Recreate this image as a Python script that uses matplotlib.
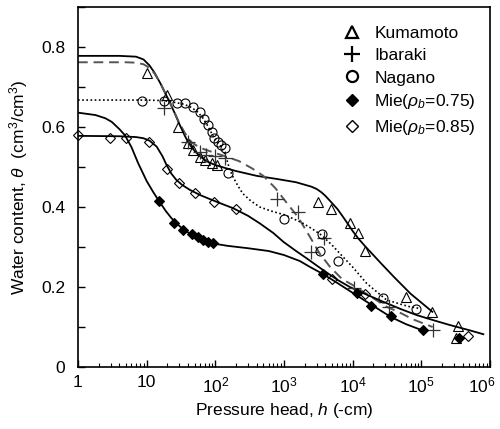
import matplotlib
matplotlib.use("Agg")
import matplotlib.pyplot as plt
import matplotlib.transforms as mtransforms
from matplotlib.lines import Line2D
from matplotlib.ticker import LogLocator, NullFormatter

plt.rcParams["font.family"] = ["Liberation Sans", "DejaVu Sans"]
plt.rcParams["mathtext.fontset"] = "custom"
plt.rcParams["mathtext.rm"] = "Liberation Sans"
plt.rcParams["mathtext.it"] = "Liberation Sans:italic"

# measured points (pressure head h in -cm, water content theta)
kum_h = [10, 19.5, 29, 40, 48, 60, 70, 88, 104, 3150, 4770, 9100, 11800, 15000, 59000, 143000, 344000, 325000]
kum_t = [0.734, 0.68, 0.599, 0.56, 0.542, 0.526, 0.518, 0.509, 0.505, 0.413, 0.394, 0.361, 0.334, 0.29, 0.176, 0.137, 0.103, 0.073]

iba_h = [18, 39.5, 59.5, 73, 98, 138, 800, 1600, 2500, 3800, 10500, 34000, 146000]
iba_t = [0.647, 0.562, 0.537, 0.53, 0.528, 0.522, 0.42, 0.388, 0.288, 0.322, 0.197, 0.151, 0.0925]

nag_h = [8.5, 18, 27.3, 36, 47.7, 59.7, 68.2, 78.8, 88.4, 96.4, 108, 119, 138, 154, 1006, 3520, 3330, 6030, 27800, 85000]
nag_t = [0.665, 0.665, 0.659, 0.659, 0.651, 0.638, 0.62, 0.605, 0.588, 0.572, 0.563, 0.555, 0.547, 0.484, 0.37, 0.332, 0.291, 0.265, 0.172, 0.144]

mie75_h = [15.3, 25.2, 34.1, 45.2, 56.4, 66.6, 78.8, 93.2, 3680, 11400, 18800, 35600, 106000, 355000]
mie75_t = [0.416, 0.361, 0.3425, 0.332, 0.324, 0.3175, 0.313, 0.309, 0.2325, 0.184, 0.153, 0.1275, 0.0925, 0.072]

mie85_h = [1.0, 2.92, 5.0, 10.9, 19.5, 29.5, 50.4, 96.4, 199, 5000, 15000, 480000]
mie85_t = [0.58, 0.572, 0.573, 0.563, 0.494, 0.459, 0.436, 0.413, 0.394, 0.22, 0.183, 0.0775]

# fitted curves
kum_fit_h = [1, 4, 7, 9, 11, 13, 16, 18, 22, 26, 30, 33, 36, 40, 45, 50, 60, 70, 80, 100, 150, 200,
             400, 800, 1500, 2500, 3000, 3500, 4000, 5000, 6000, 7000, 8500, 10000, 12000, 15000,
             25000, 40000, 70000, 145000]
kum_fit_t = [0.778, 0.778, 0.776, 0.769, 0.754, 0.736, 0.708, 0.69, 0.66, 0.632, 0.607, 0.592, 0.578,
             0.563, 0.55, 0.54, 0.527, 0.518, 0.512, 0.505, 0.496, 0.49, 0.478, 0.47, 0.462, 0.451,
             0.445, 0.437, 0.428, 0.41, 0.395, 0.379, 0.358, 0.34, 0.322, 0.303, 0.262, 0.225, 0.183, 0.138]

iba_fit_h = [1, 5, 7, 9, 11, 13, 16, 18, 22, 26, 30, 36, 45, 60, 100, 150, 220, 340, 500, 750, 1100,
             1600, 2300, 3300, 4700, 7000, 10000, 18000, 31000, 50000, 76000, 146000]
iba_fit_t = [0.762, 0.762, 0.761, 0.757, 0.748, 0.734, 0.708, 0.69, 0.66, 0.633, 0.61, 0.585, 0.562, 0.548,
             0.535, 0.525, 0.515, 0.497, 0.478, 0.447, 0.41, 0.375, 0.33, 0.284, 0.25, 0.22, 0.205, 0.177,
             0.151, 0.135, 0.119, 0.10]

nag_fit_h = [1, 10, 18, 25, 35, 45, 55, 65, 75, 85, 95, 110, 125, 140, 155, 175, 210, 250, 330, 445,
             650, 1000, 1400, 1900, 2600, 3500, 5000, 7000, 10000, 16000, 31000, 50000, 67000, 90000]
nag_fit_t = [0.6675, 0.6675, 0.666, 0.662, 0.657, 0.649, 0.638, 0.624, 0.607, 0.59, 0.574, 0.56, 0.548,
             0.53, 0.505, 0.48, 0.455, 0.434, 0.415, 0.40, 0.39, 0.381, 0.37, 0.359, 0.345, 0.33, 0.305,
             0.278, 0.25, 0.209, 0.168, 0.157, 0.151, 0.147]

mie75_fit_h = [1, 1.8, 2.5, 3.1, 4, 4.8, 6, 7.5, 10, 12.5, 15, 19, 23, 28, 35, 45, 60, 80, 100, 150,
               300, 600, 1000, 1700, 2400, 3700, 6000, 9100, 13000, 19000, 36000, 60000, 110000]
mie75_fit_t = [0.636, 0.63, 0.622, 0.613, 0.595, 0.58, 0.55, 0.51, 0.465, 0.437, 0.416, 0.39, 0.372,
               0.357, 0.343, 0.331, 0.32, 0.312, 0.308, 0.303, 0.297, 0.29, 0.28, 0.265, 0.25, 0.2325,
               0.21, 0.19, 0.173, 0.155, 0.125, 0.107, 0.09]

mie85_fit_h = [1, 4, 7, 9, 11, 14, 17, 19.5, 23, 27, 33, 43, 60, 83, 120, 182, 300, 445, 700, 980,
               1500, 2130, 3700, 6000, 9100, 15000, 28000, 50000, 85000, 150000, 260000, 500000, 800000]
mie85_fit_t = [0.578, 0.577, 0.575, 0.572, 0.566, 0.551, 0.527, 0.505, 0.483, 0.468, 0.455, 0.4425,
               0.43, 0.42, 0.409, 0.397, 0.378, 0.359, 0.335, 0.313, 0.29, 0.272, 0.2425, 0.218, 0.2,
               0.183, 0.163, 0.145, 0.13, 0.117, 0.105, 0.092, 0.082]

x_ticks = [1, 10, 100, 1000, 1e4, 1e5, 1e6]
x_labels = ["1", "10", "$10^2$", "$10^3$", "$10^4$", "$10^5$", "$10^6$"]
y_ticks = [0, 0.1, 0.2, 0.3, 0.4, 0.5, 0.6, 0.7, 0.8, 0.9]
y_labels = ["0", "", "0.2", "", "0.4", "", "0.6", "", "0.8", ""]

fig = plt.figure(figsize=(5.0, 4.29), dpi=100)
ax = fig.add_axes([0.156, 0.1445, 0.824, 0.839])

# curves
ax.plot(kum_fit_h, kum_fit_t, color="black", lw=1.3)
ax.plot(iba_fit_h, iba_fit_t, color="#555555", lw=1.4, ls=(0, (5, 3)))
ax.plot(nag_fit_h, nag_fit_t, color="black", lw=1.2, ls=(0, (1, 1.5)))
ax.plot(mie75_fit_h, mie75_fit_t, color="black", lw=1.3)
ax.plot(mie85_fit_h, mie85_fit_t, color="black", lw=1.3)

# points
ax.plot(kum_h, kum_t, ls="none", marker="^", ms=6.5, mfc="none", mec="black", mew=0.8)
ax.plot(iba_h, iba_t, ls="none", marker="+", ms=10, mec="#333333", mew=0.9)
ax.plot(nag_h, nag_t, ls="none", marker="o", ms=6.5, mfc="none", mec="black", mew=0.8)
ax.plot(mie75_h, mie75_t, ls="none", marker="D", ms=5, mfc="black", mec="black", mew=0.8)
ax.plot(mie85_h, mie85_t, ls="none", marker="D", ms=5, mfc="none", mec="black", mew=0.8,
        clip_on=False)

ax.set_xscale("log")
ax.set_xlim(1, 1e6)
ax.set_ylim(0, 0.9)
ax.set_xticks(x_ticks)
ax.set_xticklabels(x_labels)
ax.xaxis.set_minor_locator(LogLocator(base=10, subs=range(2, 10), numticks=20))
ax.xaxis.set_minor_formatter(NullFormatter())
ax.set_yticks(y_ticks)
ax.set_yticklabels(y_labels)

ax.tick_params(axis="both", which="major", direction="in", length=5, width=1, labelsize=12.5)
ax.tick_params(axis="x", which="minor", direction="in", length=3, width=0.8)
ax.tick_params(axis="x", which="major", pad=6)
ax.tick_params(axis="y", which="major", pad=9)
for s in ax.spines.values():
    s.set_linewidth(1.2)

# keep the last x label inside the figure
last = ax.get_xticklabels()[-1]
last.set_transform(last.get_transform() + mtransforms.ScaledTranslation(-6 / 72, 0, fig.dpi_scale_trans))

ax.set_xlabel("Pressure head, $h$ (-cm)", fontsize=12.5, labelpad=4)
ax.set_ylabel(r"Water content, $\theta$  (cm$^3$/cm$^3$)", fontsize=12.5, labelpad=8)

handles = [
    Line2D([], [], ls="none", marker="^", ms=8, mfc="none", mec="black", mew=1.6),
    Line2D([], [], ls="none", marker="+", ms=11, mec="black", mew=1.6),
    Line2D([], [], ls="none", marker="o", ms=8, mfc="none", mec="black", mew=1.6),
    Line2D([], [], ls="none", marker="D", ms=6.5, mfc="black", mec="black"),
    Line2D([], [], ls="none", marker="D", ms=6.5, mfc="none", mec="black", mew=1.0),
]
labels = ["Kumamoto", "Ibaraki", "Nagano", r"Mie($\rho_b$=0.75)", r"Mie($\rho_b$=0.85)"]
ax.legend(handles, labels, loc="upper left", bbox_to_anchor=(0.643, 0.947), frameon=False,
          fontsize=12.5, handlelength=1.0, handletextpad=0.8, labelspacing=0.4,
          borderpad=0, borderaxespad=0)

fig.savefig("out.png", dpi=100)
